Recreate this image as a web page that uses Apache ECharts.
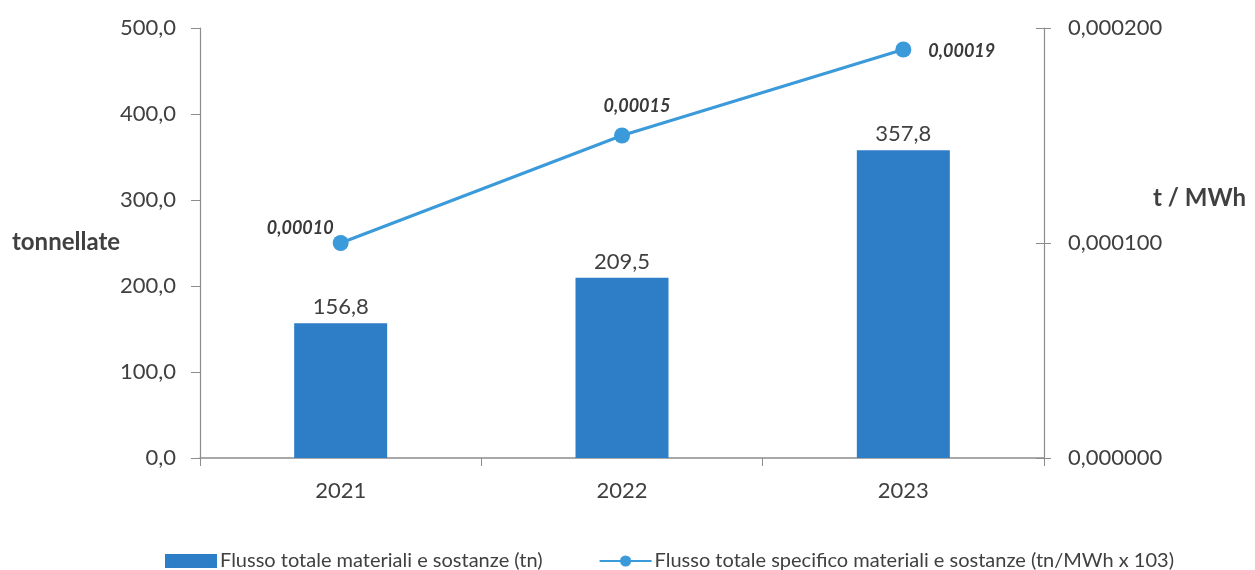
<!DOCTYPE html>
<html>
<head>
<meta charset="utf-8">
<script src="https://cdn.jsdelivr.net/npm/echarts@6/dist/echarts.min.js"></script>
<style>
  html, body { margin: 0; padding: 0; background: #ffffff; }
  #chart { width: 1255px; height: 570px; }
</style>
</head>
<body>
<div id="chart"></div>
<script>
// Years on the category axis
const years = ['2021', '2022', '2023'];
// Total flow of materials and substances, tonnes
const flussoTotale = [156.8, 209.5, 357.8];
// Specific flow, t/MWh
const flussoSpecifico = [0.00010, 0.00015, 0.00019];
// Series names shown in the legend
const seriesNames = [
  'Flusso totale materiali e sostanze (tn)',
  'Flusso totale specifico materiali e sostanze (tn/MWh x 103)'
];
// Axis titles
const leftTitle = 'tonnellate';
const rightTitle = 't / MWh';

const FONT = 'Lato, "Liberation Sans", sans-serif';
const TEXT = '#404040';
const AXIS = '#8c8c8c';
const BAR = '#2e7ec7';
const LINE = '#3b9ad9';
const comma = (v, d) => v.toFixed(d).replace('.', ',');

// per-point placement of the specific-flow labels
const linePlacement = [
  { position: 'left', distance: 0, offset: [1, -15] },
  { position: 'top', distance: 12, offset: [15, 0] },
  { position: 'right', distance: 17, offset: [0, 2] }
];

const chart = echarts.init(document.getElementById('chart'));
chart.setOption({
  animation: false,
  backgroundColor: '#ffffff',
  textStyle: { fontFamily: FONT },
  grid: { left: 200, right: 211, top: 28, bottom: 112, containLabel: false },
  graphic: [
    {
      type: 'text', left: 12, top: 230,
      style: { text: leftTitle, font: 'bold 24px ' + FONT, fill: TEXT }
    },
    {
      type: 'text', left: 1153, top: 186,
      style: { text: rightTitle, font: 'bold 24px ' + FONT, fill: TEXT }
    }
  ],
  legend: {
    top: 546,
    left: 160,
    itemGap: 56,
    itemWidth: 52,
    textStyle: { fontFamily: FONT, fontSize: 20, color: TEXT, padding: [0, 0, 0, -2] },
    data: [
      { name: seriesNames[0], icon: 'rect', itemHeight: 7, itemStyle: { color: BAR } },
      { name: seriesNames[1], itemHeight: 12 }
    ]
  },
  xAxis: {
    type: 'category',
    data: years,
    axisLine: { lineStyle: { color: AXIS, width: 1.5 } },
    axisTick: { show: true, length: 8, lineStyle: { color: AXIS } },
    axisLabel: { fontFamily: FONT, fontSize: 22, color: TEXT, margin: 22 }
  },
  yAxis: [
    {
      type: 'value',
      min: 0, max: 500, interval: 100,
      axisLine: { show: true, lineStyle: { color: AXIS, width: 1.2 } },
      axisTick: { show: true, length: 9, lineStyle: { color: AXIS } },
      axisLabel: { fontFamily: FONT, fontSize: 22, color: TEXT, margin: 24, formatter: v => comma(v, 1) },
      splitLine: { show: false }
    },
    {
      type: 'value',
      min: 0, max: 0.0002, interval: 0.0001,
      position: 'right',
      axisLine: { show: true, lineStyle: { color: AXIS, width: 1.2 } },
      axisTick: { show: true, inside: true, length: 8, lineStyle: { color: AXIS } },
      axisLabel: { fontFamily: FONT, fontSize: 22, color: TEXT, margin: 24, formatter: v => comma(v, 6) },
      splitLine: { show: false }
    },
    {
      // outer half of the crossing ticks on the right axis
      type: 'value',
      min: 0, max: 0.0002, interval: 0.0001,
      position: 'right',
      axisLine: { show: false },
      axisTick: { show: true, length: 7, lineStyle: { color: AXIS } },
      axisLabel: { show: false },
      splitLine: { show: false }
    }
  ],
  series: [
    {
      name: seriesNames[0],
      type: 'bar',
      yAxisIndex: 0,
      data: flussoTotale,
      barWidth: 93,
      itemStyle: { color: BAR },
      label: {
        show: true,
        position: 'top',
        distance: 5,
        fontFamily: FONT,
        fontSize: 22,
        color: TEXT,
        formatter: p => comma(p.value, 1)
      }
    },
    {
      name: seriesNames[1],
      type: 'line',
      yAxisIndex: 1,
      data: flussoSpecifico.map((v, i) => ({ value: v, label: linePlacement[i] })),
      symbol: 'circle',
      symbolSize: 16,
      lineStyle: { color: LINE, width: 3 },
      itemStyle: { color: LINE },
      label: {
        show: true,
        fontFamily: FONT,
        fontSize: 18,
        fontWeight: 'bold',
        fontStyle: 'italic',
        color: '#3a3a3a',
        formatter: p => comma(p.value, 5)
      }
    }
  ]
});
</script>
</body>
</html>
